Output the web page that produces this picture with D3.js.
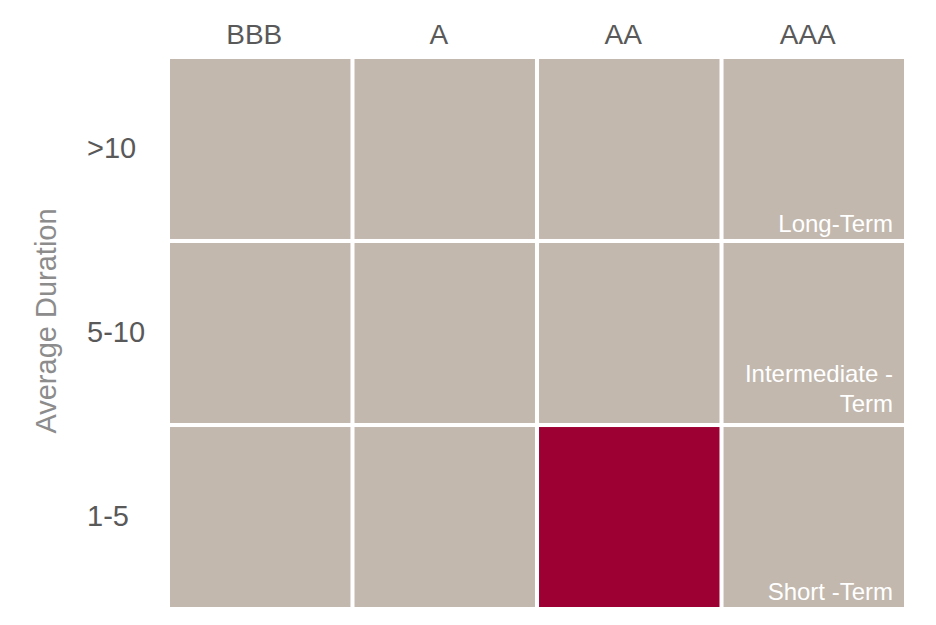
<!DOCTYPE html>
<html>
<head>
<meta charset="utf-8">
<script src="https://cdn.jsdelivr.net/npm/d3@7"></script>
<style>
  body { margin: 0; background: #fff; }
  svg { display: block; }
  .colLabel { font-family: "Liberation Sans", Arial, sans-serif; font-size: 28px; fill: #595959; }
  .rowLabel { font-family: "Liberation Sans", Arial, sans-serif; font-size: 29px; fill: #595959; }
  .axisTitle { font-family: "Liberation Sans", Arial, sans-serif; font-size: 29px; fill: #8c8c8c; }
  .termLabel { font-family: "Liberation Sans", Arial, sans-serif; font-size: 24px; fill: #fff; }
</style>
</head>
<body>
<svg id="chart" width="936" height="625"></svg>
<script>
// credit quality across the top, duration bucket down the side
const ratings = ["BBB", "A", "AA", "AAA"];
const durations = [">10", "5-10", "1-5"];
const selected = { rating: "AA", duration: "1-5" };
const termLabels = [
    { duration: ">10", lines: ["Long-Term"] },
    { duration: "5-10", lines: ["Intermediate -", "Term"] },
    { duration: "1-5", lines: ["Short -Term"] }
];

const svg = d3.select("#chart");
const m = { top: 59, right: 32, bottom: 18, left: 170 };
const width = +svg.attr("width") - m.left - m.right;
const height = +svg.attr("height") - m.top - m.bottom;

let x = d3.scaleBand().domain(ratings).range([0, width]).paddingInner(0.022);
let y = d3.scaleBand().domain(durations).range([0, height]).paddingInner(0.022);

let g = svg.append("g").attr("transform", `translate(${m.left},${m.top})`);

let cells = [];
durations.forEach(d => ratings.forEach(r => cells.push({ rating: r, duration: d })));

g.selectAll("rect.cell")
    .data(cells)
    .join("rect")
    .attr("class", "cell")
    .attr("x", d => x(d.rating))
    .attr("y", d => y(d.duration))
    .attr("width", x.bandwidth())
    .attr("height", y.bandwidth())
    .attr("fill", d => (d.rating == selected.rating && d.duration == selected.duration) ? "#9d0033" : "#c2b8ae");

// column headers
g.selectAll("text.colLabel")
    .data(ratings)
    .join("text")
    .attr("class", "colLabel")
    .attr("x", d => x(d) + x.bandwidth() / 2 - 6)
    .attr("y", -15)
    .attr("text-anchor", "middle")
    .text(d => d);

// row labels
g.selectAll("text.rowLabel")
    .data(durations)
    .join("text")
    .attr("class", "rowLabel")
    .attr("x", -83)
    .attr("y", d => y(d) + y.bandwidth() / 2)
    .attr("dy", "0.32em")
    .text(d => d);

svg.append("text")
    .attr("class", "axisTitle")
    .attr("transform", `translate(56,${m.top + height / 2 - 12}) rotate(-90)`)
    .attr("text-anchor", "middle")
    .text("Average Duration");

// term labels sit in the bottom right of the AAA column
let lastCol = ratings[ratings.length - 1];
let terms = g.selectAll("text.termLabel")
    .data(termLabels)
    .join("text")
    .attr("class", "termLabel")
    .attr("text-anchor", "end")
    .attr("transform", d => `translate(${x(lastCol) + x.bandwidth() - 11},${y(d.duration) + y.bandwidth() - (d.lines.length > 1 ? 11 : 7)})`);

terms.selectAll("tspan")
    .data(d => d.lines.map((t, i) => ({ t, up: d.lines.length - 1 - i })))
    .join("tspan")
    .attr("x", 0)
    .attr("y", d => -d.up * 30)
    .text(d => d.t);
</script>
</body>
</html>
